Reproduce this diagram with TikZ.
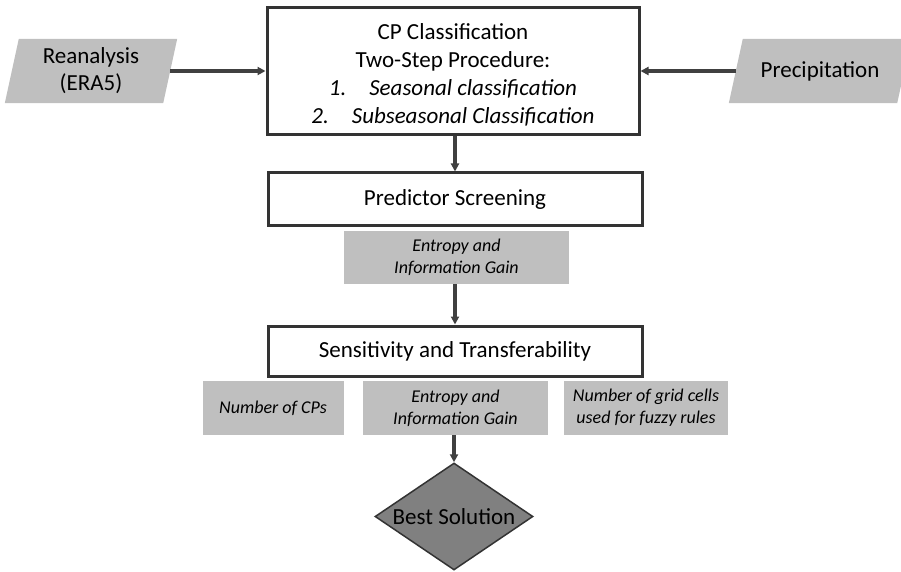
\documentclass[tikz,border=0pt]{standalone}
\usepackage{fontspec}
\setmainfont{Carlito}
\usetikzlibrary{positioning,arrows.meta,shapes.geometric,calc,backgrounds}

\definecolor{boxgray}{RGB}{191,191,191}
\definecolor{diagray}{RGB}{128,128,128}
\definecolor{linegray}{RGB}{64,64,64}

\tikzset{
  flow/.style={draw=linegray, line width=3.2pt, -{Triangle[length=8pt,width=8pt]}},
  stagebox/.style={draw=black!80, line width=3pt, fill=white, align=center, font=\fontsize{23}{28}\selectfont},
  critbox/.style={fill=boxgray, align=center, font=\fontsize{18}{22}\selectfont\itshape},
  inputlbl/.style={align=center, font=\fontsize{23}{27}\selectfont},
}

\begin{document}
\begin{tikzpicture}[x=1pt,y=-1pt]
    \useasboundingbox (0,0) rectangle (901,572);

    % inputs
    \node[inputlbl, minimum width=158, minimum height=64] (rea) at (91,71) {Reanalysis\\(ERA5)};
    \node[inputlbl, minimum width=168, minimum height=64] (prec) at (820,71) {Precipitation};
    \begin{scope}[on background layer]
      \fill[boxgray] ($(rea.north west)+(7,0)$) -- ($(rea.north east)+(7,0)$)
          -- ($(rea.south east)-(7,0)$) -- ($(rea.south west)-(7,0)$) -- cycle;
      \fill[boxgray] ($(prec.north west)+(7,0)$) -- ($(prec.north east)+(7,0)$)
          -- ($(prec.south east)-(7,0)$) -- ($(prec.south west)-(7,0)$) -- cycle;
    \end{scope}

    % CP classification
    \node[stagebox, minimum width=372, minimum height=127, inner sep=0pt] (cp) at (453,71.5)
      {\rule{0pt}{22pt}CP Classification\\Two-Step Procedure:\\
       \textit{1.\quad Seasonal classification}\\
       \textit{2.\quad Subseasonal Classification}};

    % stages
    \node[stagebox, minimum width=374, minimum height=52] (screen) at (455,199) {Predictor Screening};
    \node[critbox, minimum width=225, minimum height=53] (ent1) at (456.5,257.5) {Entropy and\\Information Gain};
    \node[stagebox, minimum width=374, minimum height=50] (sens) at (455,351) {Sensitivity and Transferability};

    \node[critbox, minimum width=141, minimum height=54] (ncp) at (273,408) {Number of CPs};
    \node[critbox, minimum width=185, minimum height=54] (ent2) at (455.5,408) {Entropy and\\Information Gain};
    \node[critbox, minimum width=164, minimum height=54] (grid) at (646,408) {Number of grid cells\\used for fuzzy rules};

    \node[diamond, draw=black!80, line width=1.5pt, fill=diagray, aspect=1.5,
          minimum width=158, minimum height=107, inner sep=0pt,
          font=\fontsize{23}{27}\selectfont] (best) at (454,516.5) {Best Solution};

    % connectors
    \draw[flow] (rea.east) -- (cp.west |- rea.east);
    \draw[flow] (prec.west) -- (cp.east |- prec.west);
    \draw[flow] (cp.south -| screen.north) -- (screen.north);
    \draw[flow] (ent1.south -| screen.south) -- (sens.north);
    \draw[flow] (ent2.south -| best.north) -- (best.north);
\end{tikzpicture}
\end{document}
